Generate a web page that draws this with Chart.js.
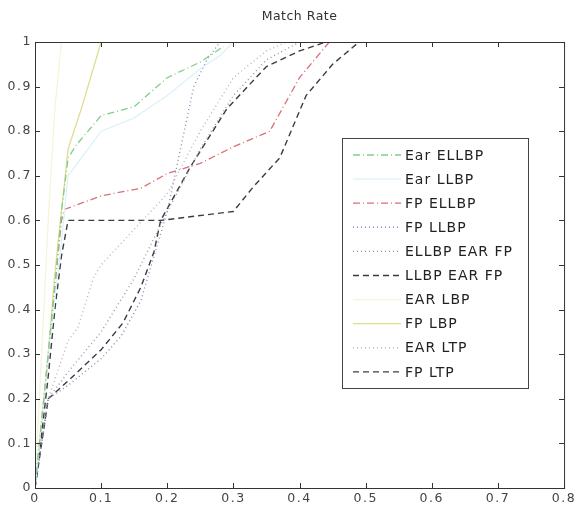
<!DOCTYPE html>
<html>
<head>
<meta charset="utf-8">
<script src="https://cdn.jsdelivr.net/npm/chart.js@4"></script>
<style>
  html, body { margin: 0; padding: 0; background: #fff; }
  #wrap { width: 577px; height: 508px; }
</style>
</head>
<body>
<div id="wrap"><canvas id="chartMatch"></canvas></div>
<script>
// Match rate curves, [x, y] pairs
const earEllbp = [[0,0],[0.01,0.15],[0.02,0.3],[0.03,0.45],[0.04,0.62],[0.05,0.74],[0.063,0.77],[0.1,0.835],[0.15,0.855],[0.2,0.92],[0.25,0.955],[0.285,0.99]];
const earLlbp = [[0,0],[0.02,0.3],[0.04,0.55],[0.05,0.7],[0.1,0.8],[0.15,0.83],[0.2,0.88],[0.25,0.94],[0.28,0.97],[0.3,1]];
const fpEllbp = [[0,0],[0.01,0.15],[0.02,0.3],[0.03,0.45],[0.04,0.6],[0.045,0.625],[0.1,0.655],[0.16,0.672],[0.2,0.705],[0.25,0.728],[0.3,0.765],[0.355,0.8],[0.4,0.92],[0.445,1]];
const fpLlbp = [[0,0],[0.01,0.1],[0.02,0.2],[0.05,0.23],[0.1,0.29],[0.13,0.34],[0.16,0.42],[0.18,0.52],[0.2,0.62],[0.22,0.76],[0.24,0.9],[0.26,0.96],[0.28,1]];
const ellbpEarFp = [[0,0],[0.02,0.2],[0.05,0.26],[0.1,0.35],[0.15,0.47],[0.2,0.62],[0.25,0.76],[0.3,0.88],[0.35,0.96],[0.4,1]];
const llbpEarFp = [[0,0],[0.01,0.1],[0.02,0.2],[0.05,0.24],[0.1,0.31],[0.133,0.37],[0.16,0.45],[0.18,0.53],[0.19,0.6],[0.235,0.72],[0.29,0.85],[0.35,0.945],[0.4,0.98],[0.44,1]];
const earLbp = [[0,0],[0.01,0.3],[0.02,0.6],[0.03,0.85],[0.04,1]];
const fpLbp = [[0,0],[0.01,0.15],[0.02,0.3],[0.03,0.48],[0.04,0.62],[0.05,0.76],[0.07,0.85],[0.09,0.95],[0.1,1]];
const earLtp = [[0,0],[0.02,0.2],[0.05,0.33],[0.065,0.36],[0.088,0.47],[0.1,0.5],[0.15,0.58],[0.2,0.66],[0.25,0.8],[0.3,0.92],[0.35,0.98],[0.38,1]];
const fpLtp = [[0,0],[0.01,0.12],[0.02,0.25],[0.03,0.4],[0.04,0.52],[0.05,0.6],[0.1,0.6],[0.19,0.6],[0.3,0.62],[0.33,0.675],[0.37,0.74],[0.41,0.88],[0.45,0.95],[0.49,1]];

const seriesNames = ['Ear ELLBP', 'Ear LLBP', 'FP ELLBP', 'FP LLBP', 'ELLBP EAR FP', 'LLBP EAR FP', 'EAR LBP', 'FP LBP', 'EAR LTP', 'FP LTP'];
const seriesData = [earEllbp, earLlbp, fpEllbp, fpLlbp, ellbpEarFp, llbpEarFp, earLbp, fpLbp, earLtp, fpLtp];

const xTicks = [0, 0.1, 0.2, 0.3, 0.4, 0.5, 0.6, 0.7, 0.8];
const yTicks = [0, 0.1, 0.2, 0.3, 0.4, 0.5, 0.6, 0.7, 0.8, 0.9, 1];

// line styles, one per series
const STYLES = [
    { color: '#7fcf8a', dash: [7, 3, 1, 3], width: 1.3 },
    { color: '#dcf2f8', dash: [], width: 1.3 },
    { color: '#d9707a', dash: [7, 3, 1, 3], width: 1.3 },
    { color: '#8a8fb8', dash: [1, 3], width: 1.4 },
    { color: '#9a9a9a', dash: [1, 3], width: 1.4 },
    { color: '#3a3a46', dash: [6, 4], width: 1.4 },
    { color: '#f6f4d8', dash: [], width: 1.3 },
    { color: '#dede90', dash: [], width: 1.3 },
    { color: '#b8b8b8', dash: [1, 3], width: 1.4 },
    { color: '#3c3c44', dash: [6, 4], width: 1.4 }
];

const FONT = 'DejaVu Sans, sans-serif';

// wider letter spacing like the original figure's text
const spacing = {
    id: 'spacing',
    beforeDraw(chart) { chart.ctx.letterSpacing = '1.5px'; }
};

const frame = {
    id: 'frame',
    afterDraw(chart) {
        const ctx = chart.ctx;
        const a = chart.chartArea;
        const xs = chart.scales.x, ys = chart.scales.y;
        ctx.save();
        // box
        ctx.strokeStyle = '#333';
        ctx.lineWidth = 1;
        ctx.strokeRect(a.left + 0.5, a.top + 0.5, a.right - a.left, a.bottom - a.top);
        // inward ticks
        ctx.beginPath();
        xTicks.forEach(v => {
            const px = Math.round(xs.getPixelForValue(v)) + 0.5;
            ctx.moveTo(px, a.bottom); ctx.lineTo(px, a.bottom - 5);
            ctx.moveTo(px, a.top); ctx.lineTo(px, a.top + 5);
        });
        yTicks.forEach(v => {
            const py = Math.round(ys.getPixelForValue(v)) + 0.5;
            ctx.moveTo(a.left, py); ctx.lineTo(a.left + 5, py);
            ctx.moveTo(a.right, py); ctx.lineTo(a.right - 5, py);
        });
        ctx.stroke();

        // title
        ctx.letterSpacing = '0.5px';
        ctx.fillStyle = '#333';
        ctx.font = '12.5px ' + FONT;
        ctx.textAlign = 'center';
        ctx.textBaseline = 'middle';
        ctx.fillText('Match Rate', (a.left + a.right) / 2, 17);

        // legend box
        const lx = 342, ly = 138, lw = 186, lh = 250;
        ctx.fillStyle = '#fff';
        ctx.fillRect(lx, ly, lw, lh);
        ctx.strokeStyle = '#444';
        ctx.strokeRect(lx + 0.5, ly + 0.5, lw, lh);
        ctx.letterSpacing = '1px';
        ctx.font = '14px ' + FONT;
        ctx.textAlign = 'left';
        chart.data.datasets.forEach((ds, i) => {
            const y = ly + 17 + i * 24.1;
            ctx.beginPath();
            ctx.lineWidth = ds.borderWidth;
            ctx.setLineDash(ds.borderDash || []);
            ctx.strokeStyle = ds.borderColor;
            ctx.moveTo(lx + 11, y); ctx.lineTo(lx + 59, y);
            ctx.stroke();
            ctx.setLineDash([]);
            ctx.fillStyle = '#222';
            ctx.fillText(ds.label, lx + 63, y + 1);
        });
        ctx.restore();
    }
};

document.addEventListener('DOMContentLoaded', () => {
    const ctx = document.getElementById('chartMatch').getContext('2d');
    new Chart(ctx, {
        type: 'line',
        data: {
            datasets: seriesNames.map((name, i) => ({
                label: name,
                data: seriesData[i].map(p => ({ x: p[0], y: p[1] })),
                borderColor: STYLES[i].color,
                borderDash: STYLES[i].dash,
                borderWidth: STYLES[i].width,
                pointRadius: 0,
                tension: 0,
                fill: false
            }))
        },
        options: {
            responsive: true,
            maintainAspectRatio: false,
            animation: false,
            layout: { padding: { top: 42, right: 11, left: 0, bottom: 0 } },
            scales: {
                x: {
                    type: 'linear',
                    min: 0, max: 0.8,
                    grid: { display: false, drawTicks: false },
                    border: { display: false },
                    afterFit(scale) { scale.height = 20; },
                    afterBuildTicks(scale) { scale.ticks = xTicks.map(v => ({ value: v })); },
                    ticks: {
                        padding: 3,
                        color: '#444',
                        font: { family: FONT, size: 12.5 },
                        maxRotation: 0,
                        autoSkip: false,
                        callback: v => String(v)
                    }
                },
                y: {
                    min: 0, max: 1,
                    grid: { display: false, drawTicks: false },
                    border: { display: false },
                    afterFit(scale) { scale.width = 35; },
                    afterBuildTicks(scale) { scale.ticks = yTicks.map(v => ({ value: v })); },
                    ticks: {
                        padding: 3,
                        color: '#444',
                        font: { family: FONT, size: 12.5 },
                        autoSkip: false,
                        callback: v => String(v)
                    }
                }
            },
            plugins: {
                legend: { display: false },
                title: { display: false },
                tooltip: { enabled: false }
            }
        },
        plugins: [spacing, frame]
    });
});
</script>
</body>
</html>
